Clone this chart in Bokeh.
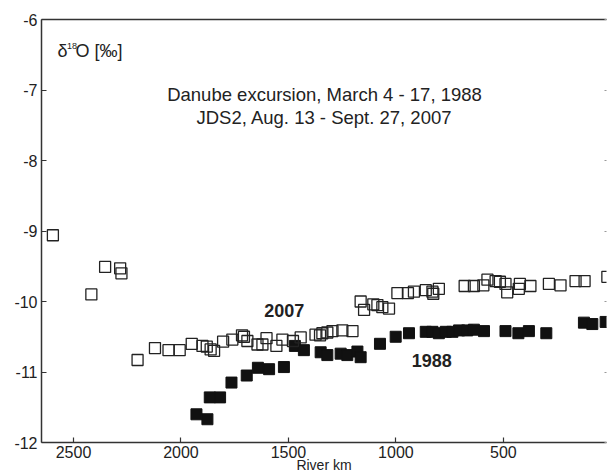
from bokeh.plotting import figure
from bokeh.models import Range1d, LinearAxis, FixedTicker, Label, CustomLabelingPolicy
from bokeh.embed import file_html
from bokeh.resources import INLINE

# ---- data ----
km_2007 = [2596, 2417, 2353, 2283, 2277, 2202, 2121, 2058, 2006, 1950, 1900, 1880, 1862, 1846,
           1804, 1761, 1716, 1707, 1691, 1644, 1621, 1602, 1556, 1528, 1479, 1443, 1374, 1353,
           1342, 1319, 1295, 1249, 1202, 1164, 1148, 1105, 1086, 1063, 1032, 993, 944, 916,
           861, 830, 826, 800, 680, 637, 593, 574, 536, 516, 490, 482, 428, 423, 374, 288,
           234, 164, 122, 16]
d18o_2007 = [-9.06, -9.90, -9.51, -9.53, -9.60, -10.83, -10.66, -10.69, -10.69, -10.60, -10.63,
             -10.64, -10.68, -10.70, -10.57, -10.54, -10.48, -10.50, -10.56, -10.61, -10.61,
             -10.52, -10.63, -10.54, -10.56, -10.51, -10.47, -10.48, -10.45, -10.44, -10.42,
             -10.41, -10.42, -10.00, -10.12, -10.04, -10.05, -10.08, -10.10, -9.88, -9.88,
             -9.86, -9.84, -9.86, -9.89, -9.82, -9.78, -9.78, -9.77, -9.69, -9.71, -9.72,
             -9.75, -9.87, -9.82, -9.75, -9.78, -9.75, -9.77, -9.71, -9.71, -9.65]

km_1988 = [1928, 1877, 1866, 1818, 1765, 1694, 1642, 1590, 1521, 1470, 1428, 1350, 1319, 1257,
           1226, 1179, 1164, 1074, 1001, 939, 861, 830, 800, 768, 737, 706, 668, 637, 590,
           490, 430, 381, 300, 125, 86, 24]
d18o_1988 = [-11.60, -11.67, -11.36, -11.36, -11.15, -11.05, -10.94, -10.96, -10.93, -10.63,
             -10.69, -10.72, -10.76, -10.74, -10.76, -10.71, -10.79, -10.60, -10.50, -10.45,
             -10.43, -10.43, -10.45, -10.43, -10.43, -10.41, -10.41, -10.40, -10.42, -10.42,
             -10.45, -10.42, -10.45, -10.30, -10.32, -10.29]

x_ticks = [2500, 2000, 1500, 1000, 500, 0]
y_ticks = [-12, -11, -10, -9, -8, -7, -6]

FONT = "Liberation Sans"
INK = "#222222"
AXIS = "#333333"

p = figure(frame_width=565, frame_height=423, output_backend="svg", toolbar_location=None,
           x_range=Range1d(2649, 20), y_range=Range1d(-12, -6),
           min_border_left=41, min_border_top=19, min_border_bottom=20, min_border_right=1)
p.grid.visible = False
p.outline_line_color = None
p.background_fill_color = "white"

for ax in (p.xaxis[0], p.yaxis[0]):
    ax.axis_line_color = AXIS
    ax.axis_line_width = 1.5
    ax.major_tick_line_color = AXIS
    ax.major_tick_line_width = 1.2
    ax.major_tick_in = 5
    ax.major_tick_out = 0
    ax.minor_tick_line_color = None
    ax.major_label_text_font = FONT
    ax.major_label_text_font_size = "16px"
    ax.major_label_text_color = INK

p.xaxis[0].ticker = FixedTicker(ticks=x_ticks)
p.yaxis[0].ticker = FixedTicker(ticks=y_ticks)
p.yaxis[0].major_label_overrides = {t: str(t) for t in y_ticks}
p.xaxis[0].major_label_overrides = {t: str(t) for t in x_ticks}
p.xaxis[0].major_label_standoff = 3
p.yaxis[0].major_label_standoff = 4

p.xaxis[0].axis_label = "River km"
p.xaxis[0].axis_label_text_font = FONT
p.xaxis[0].axis_label_text_font_size = "14px"
p.xaxis[0].axis_label_text_font_style = "normal"
p.xaxis[0].axis_label_text_color = INK
p.xaxis[0].axis_label_standoff = -4

no_labels = CustomLabelingPolicy(code="return new Set()")

top = LinearAxis(ticker=FixedTicker(ticks=[]), axis_line_color=AXIS, axis_line_width=1.5,
                 major_tick_in=0, major_tick_out=0, minor_tick_line_color=None,
                 major_label_text_font_size="1px", major_label_standoff=0,
                 major_label_policy=no_labels)
p.add_layout(top, "above")

right = LinearAxis(ticker=FixedTicker(ticks=y_ticks), axis_line_color=None,
                   major_tick_line_color="#999999", major_tick_line_width=1,
                   major_tick_in=2, major_tick_out=0, minor_tick_line_color=None,
                   major_label_text_font_size="1px", major_label_standoff=0,
                   major_label_policy=no_labels)
p.add_layout(right, "right")

p.scatter(km_1988, d18o_1988, marker="square", size=11, fill_color="#111111",
          line_color="#111111", line_width=1)
p.scatter(km_2007, d18o_2007, marker="square", size=11, fill_color=None,
          line_color=INK, line_width=1.3)

def lab(text, x, y, size, align="left", bold=False, baseline="middle"):
    p.add_layout(Label(x=x, y=y, x_units="screen", y_units="screen", text=text,
                       text_font=FONT, text_font_size=size, text_color=INK,
                       text_align=align, text_baseline=baseline,
                       text_font_style="bold" if bold else "normal"))

lab("Danube excursion, March 4 - 17, 1988", 283, 347.7, "18.5px", "center")
lab("JDS2, Aug. 13 - Sept. 27, 2007", 283, 325.3, "18.5px", "center")
lab("δ", 16, 392, "18px")
lab("18", 25.5, 397, "9px")
lab("O [‰]", 34, 392, "18px")
lab("2007", 242.7, 131.7, "18px", "center", True)
lab("1988", 390.2, 82, "18px", "center", True)

open("out.html", "w").write(file_html(p, INLINE))
